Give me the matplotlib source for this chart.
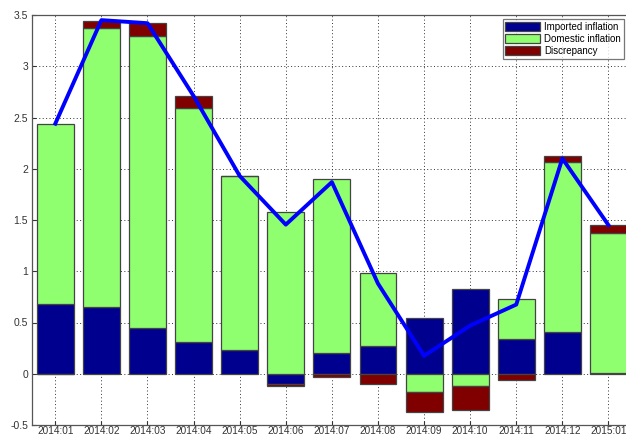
import numpy as np
import matplotlib
matplotlib.use("Agg")
import matplotlib.pyplot as plt
from matplotlib.patches import Patch

plt.rcParams['font.family'] = ['Liberation Sans', 'DejaVu Sans']

months = ["2014:01", "2014:02", "2014:03", "2014:04", "2014:05", "2014:06", "2014:07",
          "2014:08", "2014:09", "2014:10", "2014:11", "2014:12", "2015:01"]
imported = [0.68, 0.654, 0.447, 0.31, 0.227, -0.097, 0.204, 0.272, 0.544, 0.822, 0.337, 0.405, 0.005]
domestic = [1.76, 2.72, 2.853, 2.28, 1.705, 1.577, 1.70, 0.712, -0.181, -0.122, 0.395, 1.657, 1.371]
discrepancy = [-0.005, 0.07, 0.124, 0.12, 0.0, -0.025, -0.032, -0.097, -0.188, -0.233, -0.064, 0.058, 0.075]
total = [2.44, 3.45, 3.42, 2.71, 1.93, 1.455, 1.87, 0.88, 0.175, 0.47, 0.675, 2.10, 1.45]

series = [imported, domestic, discrepancy]
colors = ["#00008F", "#8FFF6F", "#800000"]
labels = ["Imported inflation", "Domestic inflation", "Discrepancy"]

W, H = 626, 437
fig = plt.figure(figsize=(W / 100, H / 100), dpi=100)
left_px, right_px, top_px, bot_px = 32.25, 631.5, 15, 425
ax = fig.add_axes([left_px / W, (H - bot_px) / H, (right_px - left_px) / W, (bot_px - top_px) / H])

x = np.arange(1, len(months) + 1)
pos_base = np.zeros(len(months))
neg_base = np.zeros(len(months))
for vals, c in zip(series, colors):
    v = np.array(vals)
    bottoms = np.where(v >= 0, pos_base, neg_base)
    ax.bar(x, v, width=0.8, bottom=bottoms, color=c, edgecolor="#444444", linewidth=0.9, zorder=2)
    pos_base = pos_base + np.where(v >= 0, v, 0)
    neg_base = neg_base + np.where(v < 0, v, 0)

ax.plot(x, total, color="#0000FF", linewidth=2.8, zorder=3)

ax.set_xlim(0.5, 13.5)
ax.set_ylim(-0.5, 3.5)
ax.set_xticks(x)
ax.set_xticklabels(months)
ax.set_yticks(np.arange(-0.5, 3.51, 0.5))
ax.set_yticklabels(["-0.5", "0", "0.5", "1", "1.5", "2", "2.5", "3", "3.5"])
ax.tick_params(direction="in", labelsize=7.5, colors="#333333", length=3, pad=3)
ax.tick_params(axis="x", pad=1, labelsize=7.2)
ax.grid(True, linestyle=(0, (1, 2.5)), color="#333333", linewidth=0.7, zorder=0)
ax.set_axisbelow(True)
for s in ax.spines.values():
    s.set_color("#555555")
    s.set_linewidth(0.9)

handles = [Patch(facecolor=c, edgecolor="#444444", linewidth=0.9) for c in colors]
leg = ax.legend(handles, labels, loc="upper right", bbox_to_anchor=(0.99, 0.995), fontsize=7.0,
                frameon=True, fancybox=False, edgecolor="#555555", borderpad=0.3,
                handlelength=3.6, handleheight=1.0, labelspacing=0.2, handletextpad=0.35,
                borderaxespad=0.2)
leg.get_frame().set_linewidth(0.9)

fig.savefig("out.png", dpi=100)
